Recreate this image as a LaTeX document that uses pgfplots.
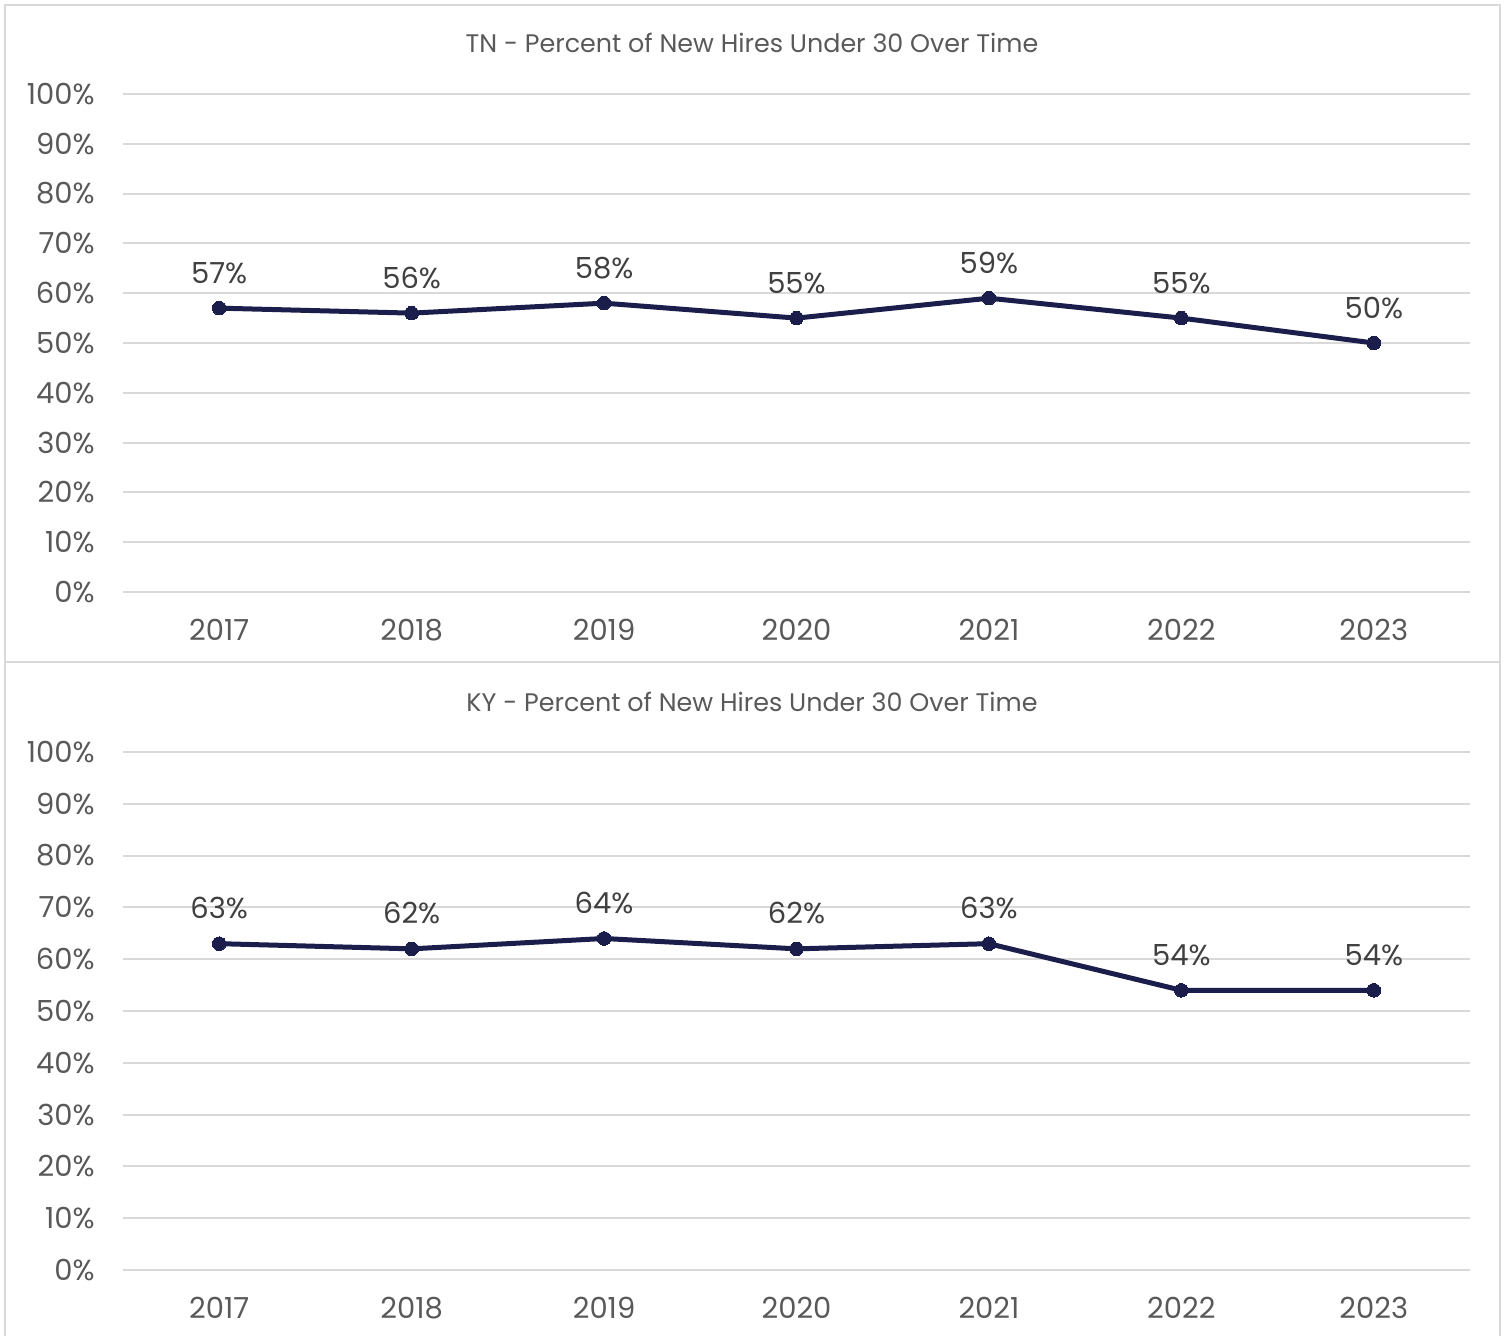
\documentclass[border=0pt]{standalone}
\usepackage{pgfplots}
\pgfplotsset{compat=1.18}
\usepackage{fontspec}
\setmainfont{Poppins}
\definecolor{navy}{HTML}{1B1E4B}
\definecolor{txt}{HTML}{595959}
\definecolor{lbl}{HTML}{404040}
\definecolor{gridc}{HTML}{D9D9D9}
\newcommand{\tickfont}{\fontsize{14.5bp}{17bp}\selectfont}
\newcommand{\titlefont}{\fontsize{12.7bp}{15bp}\selectfont}
\pgfplotsset{
  hires/.style={
    scale only axis, width=673.5bp,
    xmin=-0.5, xmax=6.5, ymin=0, ymax=100,
    xtick={0,1,2,3,4,5,6},
    xticklabels={2017,2018,2019,2020,2021,2022,2023},
    ytick={0,10,...,100},
    yticklabel={\pgfmathprintnumber{\tick}\%},
    axis x line=bottom, axis y line=left,
    axis line style={draw=none}, major tick length=0pt,
    ymajorgrids, grid style={gridc, line width=1bp},
    /pgf/number format/assume math mode=true,
    tick label style={font=\tickfont, text=txt},
    xticklabel style={anchor=base, yshift=-24bp},
    yticklabel style={anchor=east, inner sep=0pt, xshift=-14bp},
    nodes near coords={\pgfmathprintnumber{\pgfplotspointmeta}\%},
    every node near coord/.append style={font=\tickfont, text=lbl, anchor=base, inner sep=0pt, yshift=12.5bp},
    clip=false,
  },
  series/.style={navy, line width=2.5bp, mark=*, mark size=3.4bp, mark options={fill=navy, draw=navy, line width=0pt}},
}
\begin{document}
\begin{tikzpicture}
\useasboundingbox (0,0) rectangle (752bp,-668bp);
% panel frames
\draw[gridc, line width=1bp] (2.5bp,-2.5bp) rectangle (750bp,-331bp);
\draw[gridc, line width=1bp] (2.5bp,-331bp) rectangle (750bp,-670bp);

% Tennessee
\begin{axis}[hires, height=249bp, at={(61.5bp,-296bp)}, anchor=south west]
\addplot[series] coordinates {(0,57) (1,56) (2,58) (3,55) (4,59) (5,55) (6,50)};
\end{axis}
\node[font=\titlefont, text=txt, anchor=base] at (376bp,-26bp) {TN - Percent of New Hires Under 30 Over Time};

% Kentucky
\begin{axis}[hires, height=259bp, at={(61.5bp,-635bp)}, anchor=south west]
\addplot[series] coordinates {(0,63) (1,62) (2,64) (3,62) (4,63) (5,54) (6,54)};
\end{axis}
\node[font=\titlefont, text=txt, anchor=base] at (376bp,-355.5bp) {KY - Percent of New Hires Under 30 Over Time};
\end{tikzpicture}
\end{document}
